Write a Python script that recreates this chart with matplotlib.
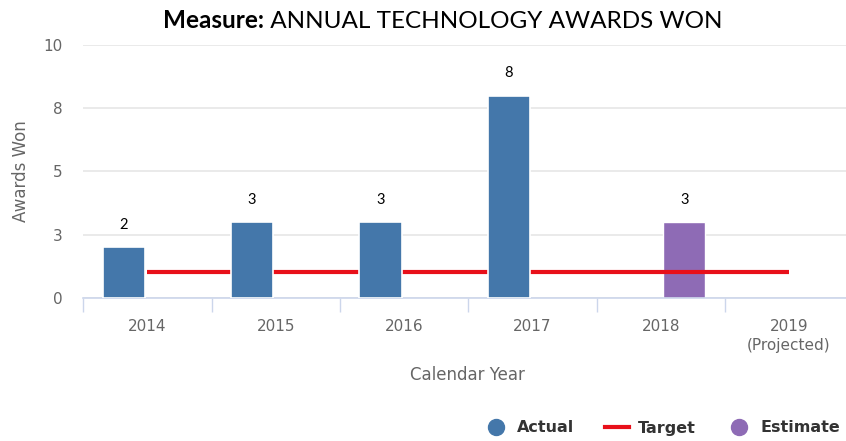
import matplotlib
matplotlib.use("Agg")
import matplotlib.pyplot as plt
import numpy as np
from matplotlib.lines import Line2D

plt.rcParams["font.family"] = ["DejaVu Sans"]

# values
categories = ["2014", "2015", "2016", "2017", "2018", "2019\n(Projected)"]
actual = [2, 3, 3, 8, np.nan, np.nan]
target = [1, 1, 1, 1, 1, 1]
estimate = [np.nan, np.nan, np.nan, np.nan, 3, np.nan]
y_ticks = [0, 2.5, 5, 7.5, 10]
y_tick_labels = ["0", "3", "5", "8", "10"]

BLUE = "#4477aa"
PURPLE = "#8e6bb5"
RED = "#e8101a"
GRID = "#e6e6e6"
AXIS = "#ccd6eb"
LABEL = "#666666"

W, H = 846, 441
fig = plt.figure(figsize=(W / 100, H / 100), dpi=100)
ax = fig.add_axes([83.3 / W, 1 - 297.7 / H, (W - 83.3) / W, (297.7 - 45) / H])

x = np.arange(len(categories))
bar_w = 0.33
offset = 0.184

ax.bar(x + offset, estimate, width=bar_w, color=PURPLE, edgecolor="white",
       linewidth=1, zorder=2)
ax.plot(x, target, color=RED, lw=3, zorder=3, solid_capstyle="butt")
ax.bar(x - offset, actual, width=bar_w, color=BLUE, edgecolor="white",
       linewidth=1.2, zorder=4)

# data labels above bars
for xs, vals in ((x - offset, actual), (x + offset, estimate)):
    for xi, v in zip(xs, vals):
        if np.isnan(v):
            continue
        ax.annotate(f"{v:.0f}", (xi, v), xytext=(0, 16), textcoords="offset points",
                    ha="center", va="center", fontsize=10.5, family="Lato",
                    color="black", zorder=5)

ax.set_yticks(y_ticks)
ax.set_yticklabels(y_tick_labels)
ax.grid(axis="y", color=GRID, lw=1.2, zorder=0)
ax.set_axisbelow(True)

ax.set_xticks(x)
ax.set_xticklabels(categories, linespacing=1.35)
ax.set_xticks(np.arange(len(categories) + 1) - 0.5, minor=True)
# limits after the ticks, so set_xticks does not widen them
ax.set_xlim(-0.5, -0.5 + (W - 83.3) / 128.3)
ax.set_ylim(0, 10)
ax.tick_params(axis="x", which="major", length=0, pad=15, labelsize=11, labelcolor=LABEL)
ax.tick_params(axis="x", which="minor", length=10, width=1, color=AXIS)
ax.tick_params(axis="y", length=0, pad=15, labelsize=11, labelcolor=LABEL)

for side in ("top", "right", "left"):
    ax.spines[side].set_visible(False)
ax.spines["bottom"].set_color(AXIS)
ax.spines["bottom"].set_linewidth(1.2)

ax.set_ylabel("Awards Won", fontsize=12, color=LABEL, va="center")
ax.yaxis.set_label_coords((20.5 - 83.3) / (W - 83.3), 0.5)
ax.set_xlabel("Calendar Year", fontsize=12, color=LABEL)
ax.xaxis.set_label_coords((467 - 83.3) / (W - 83.3), (297.7 - 375) / (297.7 - 45))
ax.xaxis.label.set_va("center")

# title: bold lead-in followed by regular text
t1 = fig.text(163 / W, 1 - 21 / H, "Measure:", fontsize=17.5, fontweight="bold",
              family="Lato", va="center", ha="left")
ax.annotate(" ANNUAL TECHNOLOGY AWARDS WON", xy=(1, 0), xycoords=t1,
            va="bottom", ha="left", fontsize=17.5, family="Lato", annotation_clip=False)

handles = [
    Line2D([], [], marker="o", ls="none", color=BLUE, markersize=11.5),
    Line2D([], [], color=RED, lw=3),
    Line2D([], [], marker="o", ls="none", color=PURPLE, markersize=11.5),
]
fig.legend(handles, ["Actual", "Target", "Estimate"], loc="center right",
           bbox_to_anchor=(843 / W, 1 - 428 / H), ncol=3, frameon=False,
           prop={"weight": "bold", "size": 11.5}, labelcolor="#333333",
           handlelength=1.5, handletextpad=0.56, columnspacing=1.95, borderaxespad=0,
           borderpad=0.2)

fig.savefig("out.png", dpi=100)
